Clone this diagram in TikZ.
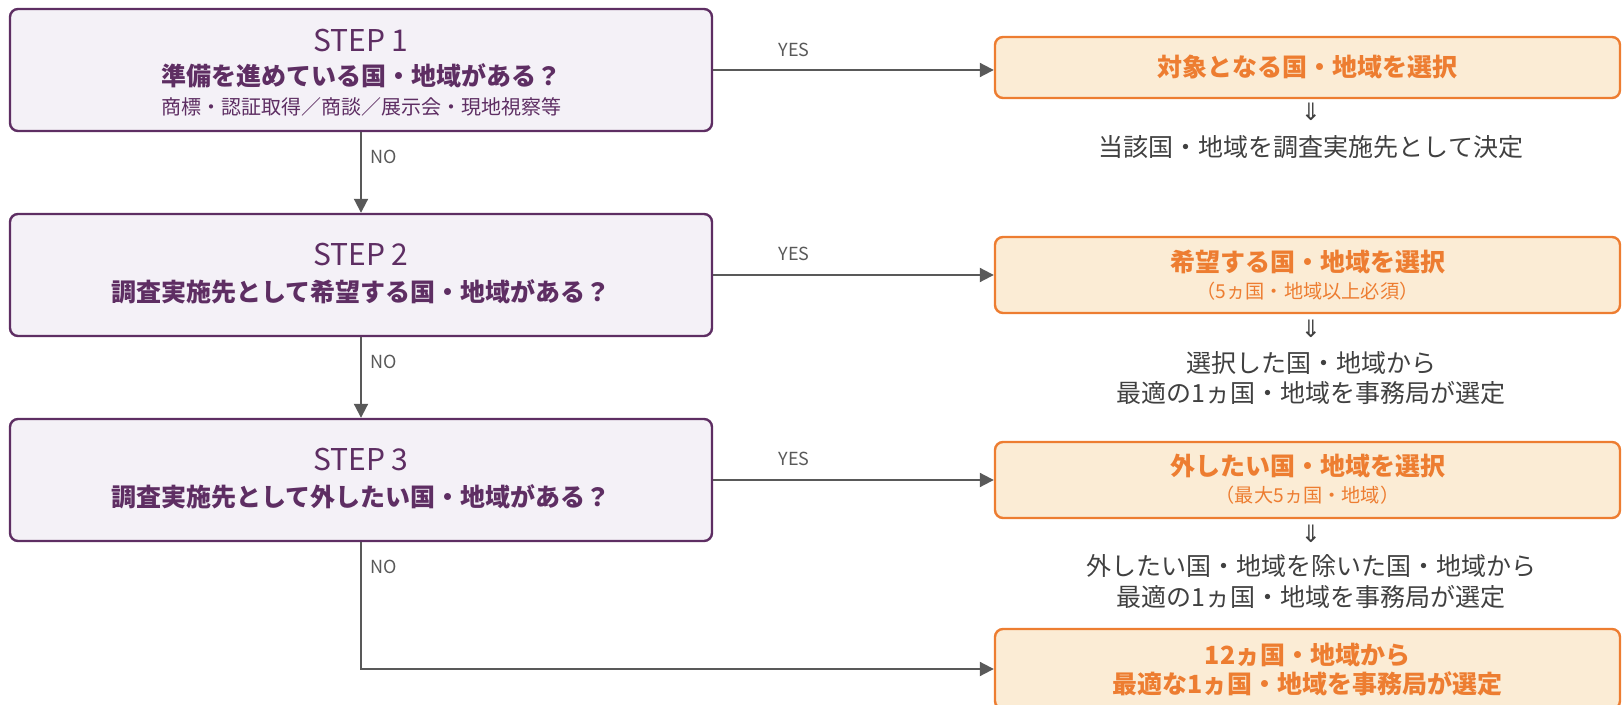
\documentclass[tikz,border=0pt]{standalone}
\usepackage{fontspec}
\setmainfont{Noto Sans CJK JP}
\newfontfamily\arrowfont{DejaVu Sans}
\usetikzlibrary{arrows.meta}
\definecolor{purp}{HTML}{5E2E63}
\definecolor{purpfill}{HTML}{F4F1F7}
\definecolor{orng}{HTML}{ED7D31}
\definecolor{orngfill}{HTML}{FBECD5}
\definecolor{linegray}{HTML}{595959}
\definecolor{txtgray}{HTML}{404040}
\tikzset{
  qbox/.style={draw=purp, fill=purpfill, line width=1.2pt, rounded corners=4pt,
    minimum width=351pt, minimum height=61pt, inner sep=0pt},
  abox/.style={draw=orng, fill=orngfill, line width=1.2pt, rounded corners=4pt,
    minimum width=312.5pt, inner sep=0pt},
  steplbl/.style={text=purp, font=\fontsize{15pt}{18pt}\selectfont, inner sep=0pt},
  qlbl/.style={text=purp, font=\fontsize{12.5pt}{15pt}\selectfont\bfseries, inner sep=0pt},
  sublbl/.style={text=purp, font=\fontsize{10pt}{12pt}\selectfont, inner sep=0pt},
  albl/.style={text=orng, font=\fontsize{12.5pt}{15pt}\selectfont\bfseries, inner sep=0pt},
  asub/.style={text=orng, font=\fontsize{9.6pt}{11pt}\selectfont, inner sep=0pt},
  dlbl/.style={text=txtgray, font=\fontsize{12.5pt}{15pt}\selectfont, inner sep=0pt},
  darrow/.style={text=txtgray, font=\arrowfont\fontsize{12pt}{14pt}\selectfont, inner sep=0pt},
  yn/.style={text=linegray, font=\fontsize{9pt}{11pt}\selectfont, inner sep=0pt},
  conn/.style={draw=linegray, line width=1pt, -{Triangle[length=7pt,width=7pt]}},
}
\begin{document}
\begin{tikzpicture}[x=0.5pt,y=-0.5pt]
\useasboundingbox (0,0) rectangle (1622,705);
\clip (0,0) rectangle (1622,705);
% question boxes
\node[qbox] (b1) at (361,70) {};
\node[qbox] (b2) at (361,275) {};
\node[qbox] (b3) at (361,480) {};
% answer boxes
\node[abox, minimum height=30.5pt] (r1) at (1307.5,67.5) {};
\node[abox, minimum height=38pt] (r2) at (1307.5,275) {};
\node[abox, minimum height=38pt] (r3) at (1307.5,480) {};
\node[abox, minimum height=40pt] (r4) at (1307.5,669) {};
% question texts
\node[steplbl] (s1) at (361,41) {STEP 1};
\node[qlbl] (q1) at (361,76) {準備を進めている国・地域がある？};
\node[sublbl] (q1s) at (361,107) {商標・認証取得／商談／展示会・現地視察等};
\node[steplbl] (s2) at (361,255) {STEP 2};
\node[qlbl] (q2) at (361,292) {調査実施先として希望する国・地域がある？};
\node[steplbl] (s3) at (361,460) {STEP 3};
\node[qlbl] (q3) at (361,497) {調査実施先として外したい国・地域がある？};
% answer texts
\node[albl] (a1) at (1307.5,67) {対象となる国・地域を選択};
\node[darrow] (d1) at (1311,112) {⇓};
\node[dlbl] (t1) at (1311,147) {当該国・地域を調査実施先として決定};
\node[albl] (a2) at (1307.5,262) {希望する国・地域を選択};
\node[asub] (a2s) at (1307.5,291) {（5ヵ国・地域以上必須）};
\node[darrow] (d2) at (1311,329) {⇓};
\node[dlbl] (t2a) at (1311,363) {選択した国・地域から};
\node[dlbl] (t2b) at (1311,393) {最適の1ヵ国・地域を事務局が選定};
\node[albl] (a3) at (1307.5,466) {外したい国・地域を選択};
\node[asub] (a3s) at (1307.5,495) {（最大5ヵ国・地域）};
\node[darrow] (d3) at (1311,534) {⇓};
\node[dlbl] (t3a) at (1311,566) {外したい国・地域を除いた国・地域から};
\node[dlbl] (t3b) at (1311,597) {最適の1ヵ国・地域を事務局が選定};
\node[albl] (a4a) at (1307.5,655) {12ヵ国・地域から};
\node[albl] (a4b) at (1307.5,684) {最適な1ヵ国・地域を事務局が選定};
% connectors
\draw[conn] (b1.east) -- (b1.east -| r1.west);
\draw[conn] (b2.east) -- (r2.west);
\draw[conn] (b3.east) -- (r3.west);
\draw[conn] (b1.south) -- (b2.north);
\draw[conn] (b2.south) -- (b3.north);
\draw[conn] (b3.south) |- (r4.west);
% labels
\node[yn] (y1) at (794,50) {YES};
\node[yn] (y2) at (794,254) {YES};
\node[yn] (y3) at (794,459) {YES};
\node[yn, anchor=west] (n1) at (370,157) {NO};
\node[yn, anchor=west] (n2) at (370,362) {NO};
\node[yn, anchor=west] (n3) at (370,567) {NO};
\end{tikzpicture}
\end{document}
